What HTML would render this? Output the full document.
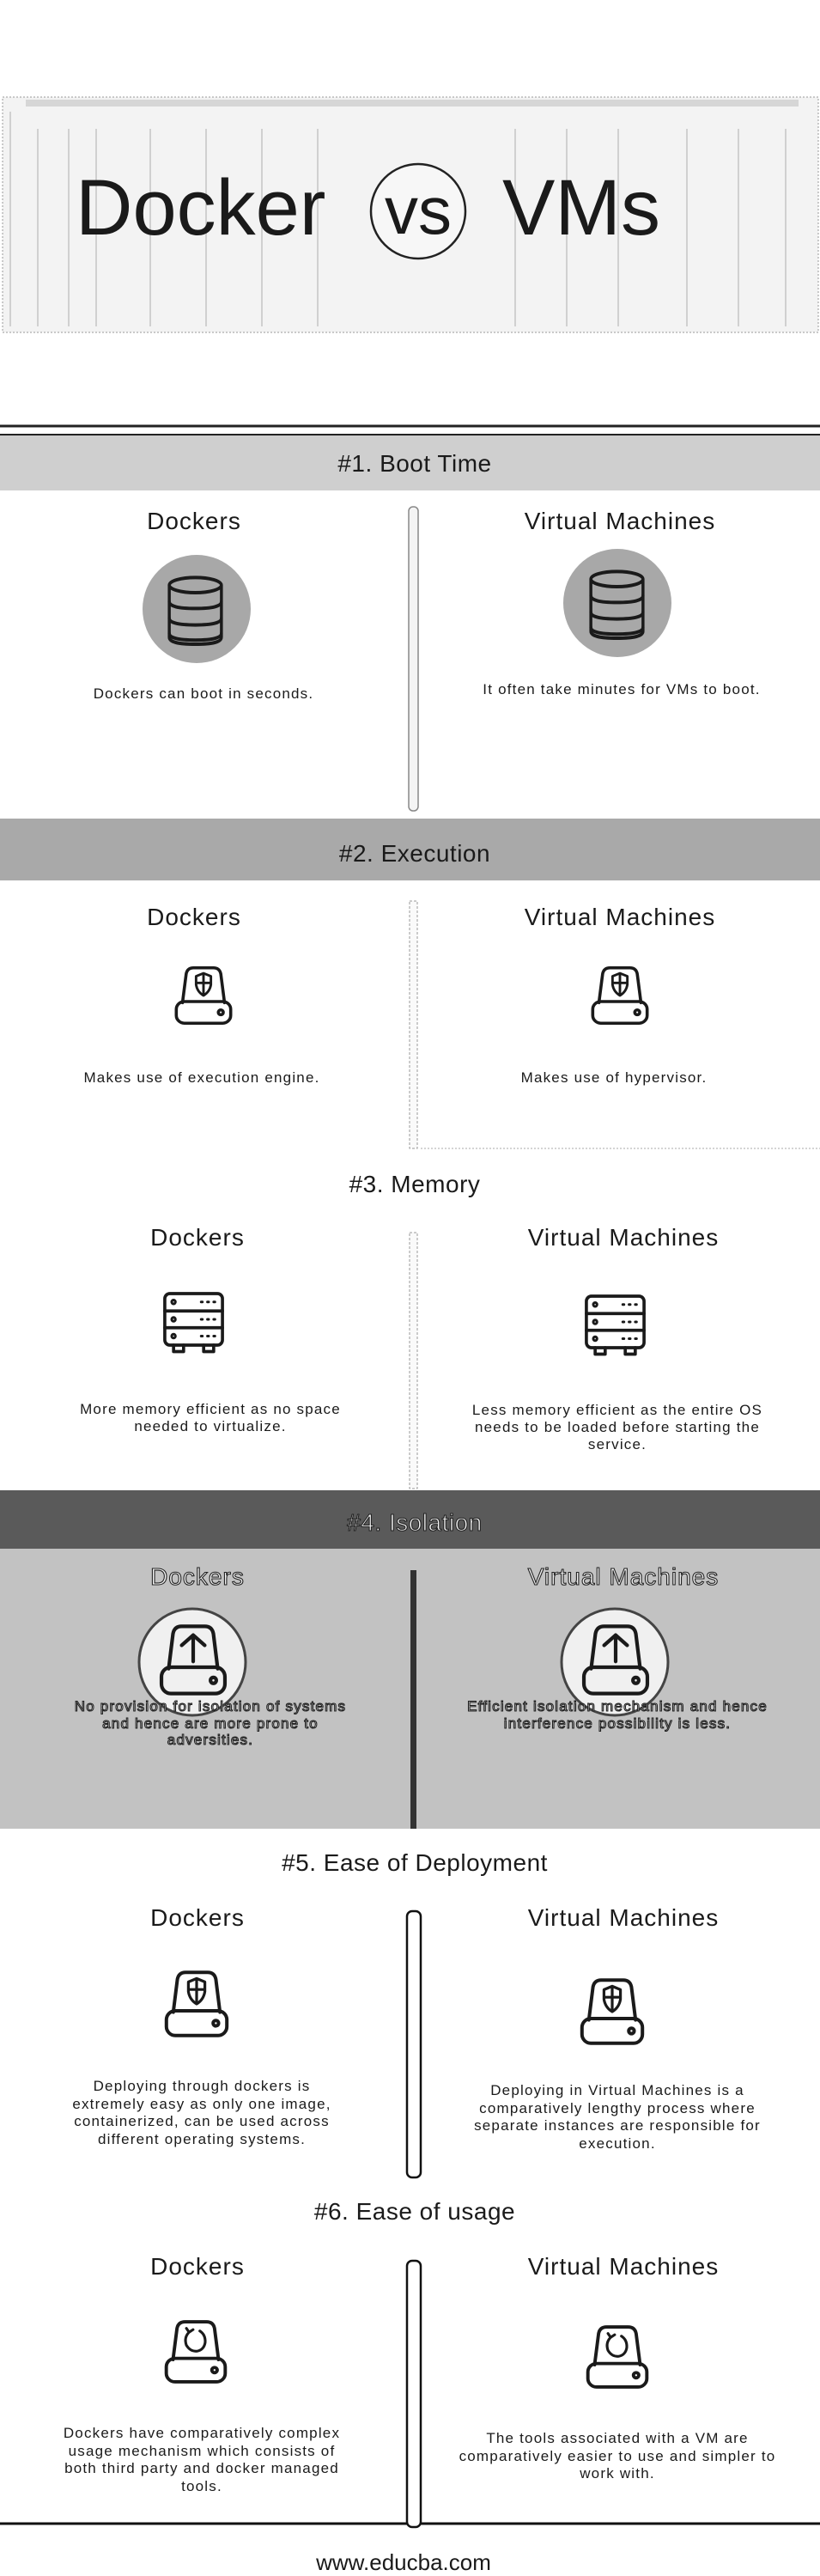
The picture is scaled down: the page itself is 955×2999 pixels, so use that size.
<!DOCTYPE html>
<html><head><meta charset="utf-8"><style>
html,body{margin:0;padding:0;background:#fff}
svg{display:block}
text{font-family:"Liberation Sans",sans-serif;fill:#1a1a1a}
.h{font-size:28px;text-anchor:middle;letter-spacing:1px}
.t{font-size:17px;text-anchor:middle;letter-spacing:1.2px}
.s{font-size:28px;text-anchor:middle;letter-spacing:0.5px}
.w{fill:#f6f6f6;stroke:#222;stroke-width:1.1px}
.ic{fill:none;stroke:#1a1a1a;stroke-width:5;stroke-linejoin:round;stroke-linecap:round}
</style></head><body>
<svg width="955" height="2999" viewBox="0 0 955 2999" xmlns="http://www.w3.org/2000/svg">
<defs>
<g id="drive">
<path class="ic" d="M16 62 L22 14 Q24 4 34 4 L66 4 Q76 4 78 14 L84 62"/>
<rect class="ic" x="6" y="60" width="88" height="36" rx="13"/>
<circle class="ic" cx="78" cy="78" r="4"/>
</g>
<g id="shield">
<path class="ic" style="stroke-width:4" d="M38 18 L50 13 L62 18 L62 32 Q60 44 50 50 Q40 44 38 32 Z M50 15 L50 48 M39 29 L61 29"/>
</g>
<g id="db">
<ellipse class="ic" cx="50" cy="14" rx="44" ry="11"/>
<path class="ic" d="M6 14 L6 90 Q6 100 50 100 Q94 100 94 90 L94 14"/>
<path class="ic" d="M6 38 Q6 48 50 48 Q94 48 94 38 M6 62 Q6 72 50 72 Q94 72 94 62 M6 84 Q6 94 50 94 Q94 94 94 84"/>
</g>
<g id="server">
<rect class="ic" x="4" y="4" width="92" height="80" rx="8"/>
<path class="ic" d="M4 31 L96 31 M4 57 L96 57 M18 84 L18 94 L34 94 L34 84 M66 84 L66 94 L82 94 L82 84"/>
<circle class="ic" style="stroke-width:4" cx="18" cy="17" r="3"/>
<circle class="ic" style="stroke-width:4" cx="18" cy="44" r="3"/>
<circle class="ic" style="stroke-width:4" cx="18" cy="70" r="3"/>
<path class="ic" style="stroke-width:4" d="M62 17h2M72 17h2M82 17h2M62 44h2M72 44h2M82 44h2M62 70h2M72 70h2M82 70h2"/>
</g>
</defs>

<rect x="0" y="0" width="955" height="113" fill="#fff"/>
<rect x="3" y="113" width="950" height="274" fill="#f3f3f3" stroke="#999" stroke-width="1" stroke-dasharray="2,2"/>
<rect x="30" y="116" width="900" height="8" fill="#d6d6d6"/>
<g stroke="#d0d0d0" stroke-width="2">
<line x1="12" y1="130" x2="12" y2="380"/><line x1="44" y1="150" x2="44" y2="380"/><line x1="80" y1="150" x2="80" y2="380"/>
<line x1="112" y1="150" x2="112" y2="380"/><line x1="175" y1="150" x2="175" y2="380"/><line x1="240" y1="150" x2="240" y2="380"/>
<line x1="305" y1="150" x2="305" y2="380"/><line x1="370" y1="150" x2="370" y2="380"/><line x1="600" y1="150" x2="600" y2="380"/>
<line x1="660" y1="150" x2="660" y2="380"/><line x1="720" y1="150" x2="720" y2="380"/><line x1="800" y1="150" x2="800" y2="380"/>
<line x1="860" y1="150" x2="860" y2="380"/><line x1="915" y1="150" x2="915" y2="380"/>
</g>
<text x="88" y="273" style="font-size:92px">Docker</text>
<circle cx="487" cy="246" r="55" fill="#f7f7f7" stroke="#222" stroke-width="2.5"/>
<text x="487" y="272" style="font-size:78px;text-anchor:middle">vs</text>
<text x="585" y="273" style="font-size:92px">VMs</text>

<line x1="0" y1="496" x2="955" y2="496" stroke="#222" stroke-width="3"/>
<line x1="0" y1="506" x2="955" y2="506" stroke="#222" stroke-width="2"/>

<rect x="0" y="507" width="955" height="64" fill="#cfcfcf"/>
<text class="s" x="483" y="549">#1. Boot Time</text>
<text class="h" x="226" y="616">Dockers</text>
<text class="h" x="722" y="616">Virtual Machines</text>
<rect x="476" y="590" width="11" height="354" rx="5" fill="#f4f4f4" stroke="#888" stroke-width="1.5"/>
<circle cx="229" cy="709" r="63" fill="#a8a8a8"/>
<use href="#db" transform="translate(193,670) scale(0.69,0.8)"/>
<circle cx="719" cy="702" r="63" fill="#a8a8a8"/>
<use href="#db" transform="translate(684,663) scale(0.69,0.8)"/>
<text class="t" x="237" y="813">Dockers can boot in seconds.</text>
<text class="t" x="724" y="808">It often take minutes for VMs to boot.</text>

<rect x="0" y="953" width="955" height="72" fill="#a9a9a9"/>
<text class="s" x="483" y="1003">#2. Execution</text>
<text class="h" x="226" y="1077">Dockers</text>
<text class="h" x="722" y="1077">Virtual Machines</text>
<rect x="477" y="1049" width="9" height="288" fill="#fafafa" stroke="#999" stroke-width="1" stroke-dasharray="3,2"/>
<line x1="490" y1="1337" x2="955" y2="1337" stroke="#aaa" stroke-width="1" stroke-dasharray="2,2"/>
<g transform="translate(201,1124) scale(0.72,0.7)"><use href="#drive"/><use href="#shield"/></g>
<g transform="translate(686,1124) scale(0.72,0.7)"><use href="#drive"/><use href="#shield"/></g>
<text class="t" x="235" y="1260">Makes use of execution engine.</text>
<text class="t" x="715" y="1260">Makes use of hypervisor.</text>

<text class="s" x="483" y="1388">#3. Memory</text>
<text class="h" x="230" y="1450">Dockers</text>
<text class="h" x="726" y="1450">Virtual Machines</text>
<rect x="477" y="1435" width="9" height="298" fill="#fafafa" stroke="#999" stroke-width="1" stroke-dasharray="3,2"/>
<use href="#server" transform="translate(189,1503) scale(0.73,0.75)"/>
<use href="#server" transform="translate(680,1506) scale(0.73,0.75)"/>
<text class="t" x="245" y="1646">More memory efficient as no space</text>
<text class="t" x="245" y="1666">needed to virtualize.</text>
<text class="t" x="719" y="1647">Less memory efficient as the entire OS</text>
<text class="t" x="719" y="1667">needs to be loaded before starting the</text>
<text class="t" x="719" y="1687">service.</text>

<rect x="0" y="1735" width="955" height="68" fill="#5a5a5a"/>
<text class="s w" x="483" y="1782">#4. Isolation</text>
<rect x="0" y="1803" width="955" height="326" fill="#c2c2c2"/>
<text class="h w" x="230" y="1845">Dockers</text>
<text class="h w" x="726" y="1845">Virtual Machines</text>
<rect x="478" y="1828" width="7" height="301" fill="#333"/>
<circle cx="224" cy="1935" r="62" fill="#f0f0f0" stroke="#444" stroke-width="3"/>
<g transform="translate(183,1890) scale(0.84,0.85)"><use href="#drive"/><path class="ic" d="M50 52 L50 16 M34 30 L50 16 L66 30"/></g>
<circle cx="716" cy="1935" r="62" fill="#f0f0f0" stroke="#444" stroke-width="3"/>
<g transform="translate(675,1890) scale(0.84,0.85)"><use href="#drive"/><path class="ic" d="M50 52 L50 16 M34 30 L50 16 L66 30"/></g>
<text class="t w" x="245" y="1992">No provision for isolation of systems</text>
<text class="t w" x="245" y="2012">and hence are more prone to</text>
<text class="t w" x="245" y="2031">adversities.</text>
<text class="t w" x="719" y="1992">Efficient isolation mechanism and hence</text>
<text class="t w" x="719" y="2012">interference possibility is less.</text>

<text class="s" x="483" y="2178">#5. Ease of Deployment</text>
<text class="h" x="230" y="2242">Dockers</text>
<text class="h" x="726" y="2242">Virtual Machines</text>
<rect x="474" y="2225" width="16" height="310" rx="6" fill="#fff" stroke="#111" stroke-width="2.5"/>
<g transform="translate(189,2293) scale(0.8,0.8)"><use href="#drive"/><use href="#shield"/></g>
<g transform="translate(673,2302) scale(0.8,0.8)"><use href="#drive"/><use href="#shield"/></g>
<text class="t" x="235" y="2434">Deploying through dockers is</text>
<text class="t" x="235" y="2455">extremely easy as only one image,</text>
<text class="t" x="235" y="2475">containerized, can be used across</text>
<text class="t" x="235" y="2496">different operating systems.</text>
<text class="t" x="719" y="2439">Deploying in Virtual Machines is a</text>
<text class="t" x="719" y="2460">comparatively lengthy process where</text>
<text class="t" x="719" y="2480">separate instances are responsible for</text>
<text class="t" x="719" y="2501">execution.</text>

<text class="s" x="483" y="2584">#6. Ease of usage</text>
<text class="h" x="230" y="2648">Dockers</text>
<text class="h" x="726" y="2648">Virtual Machines</text>
<rect x="474" y="2632" width="16" height="310" rx="6" fill="#fff" stroke="#111" stroke-width="2.5"/>
<line x1="0" y1="2938" x2="475" y2="2938" stroke="#111" stroke-width="3"/>
<line x1="489" y1="2938" x2="955" y2="2938" stroke="#111" stroke-width="3"/>
<g transform="translate(189,2700) scale(0.78,0.76)"><use href="#drive"/><path class="ic" style="stroke-width:4" d="M40 20 Q32 28 36 40 Q42 50 52 49 Q62 47 64 36 Q65 24 56 18 M40 20 L36 14 M40 20 L46 16"/></g>
<g transform="translate(680,2706) scale(0.78,0.76)"><use href="#drive"/><path class="ic" style="stroke-width:4" d="M40 20 Q32 28 36 40 Q42 50 52 49 Q62 47 64 36 Q65 24 56 18 M40 20 L36 14 M40 20 L46 16"/></g>
<text class="t" x="235" y="2838">Dockers have comparatively complex</text>
<text class="t" x="235" y="2859">usage mechanism which consists of</text>
<text class="t" x="235" y="2879">both third party and docker managed</text>
<text class="t" x="235" y="2900">tools.</text>
<text class="t" x="719" y="2844">The tools associated with a VM are</text>
<text class="t" x="719" y="2865">comparatively easier to use and simpler to</text>
<text class="t" x="719" y="2885">work with.</text>

<text x="470" y="2992" style="font-size:26px;text-anchor:middle">www.educba.com</text>
</svg>
</body></html>
